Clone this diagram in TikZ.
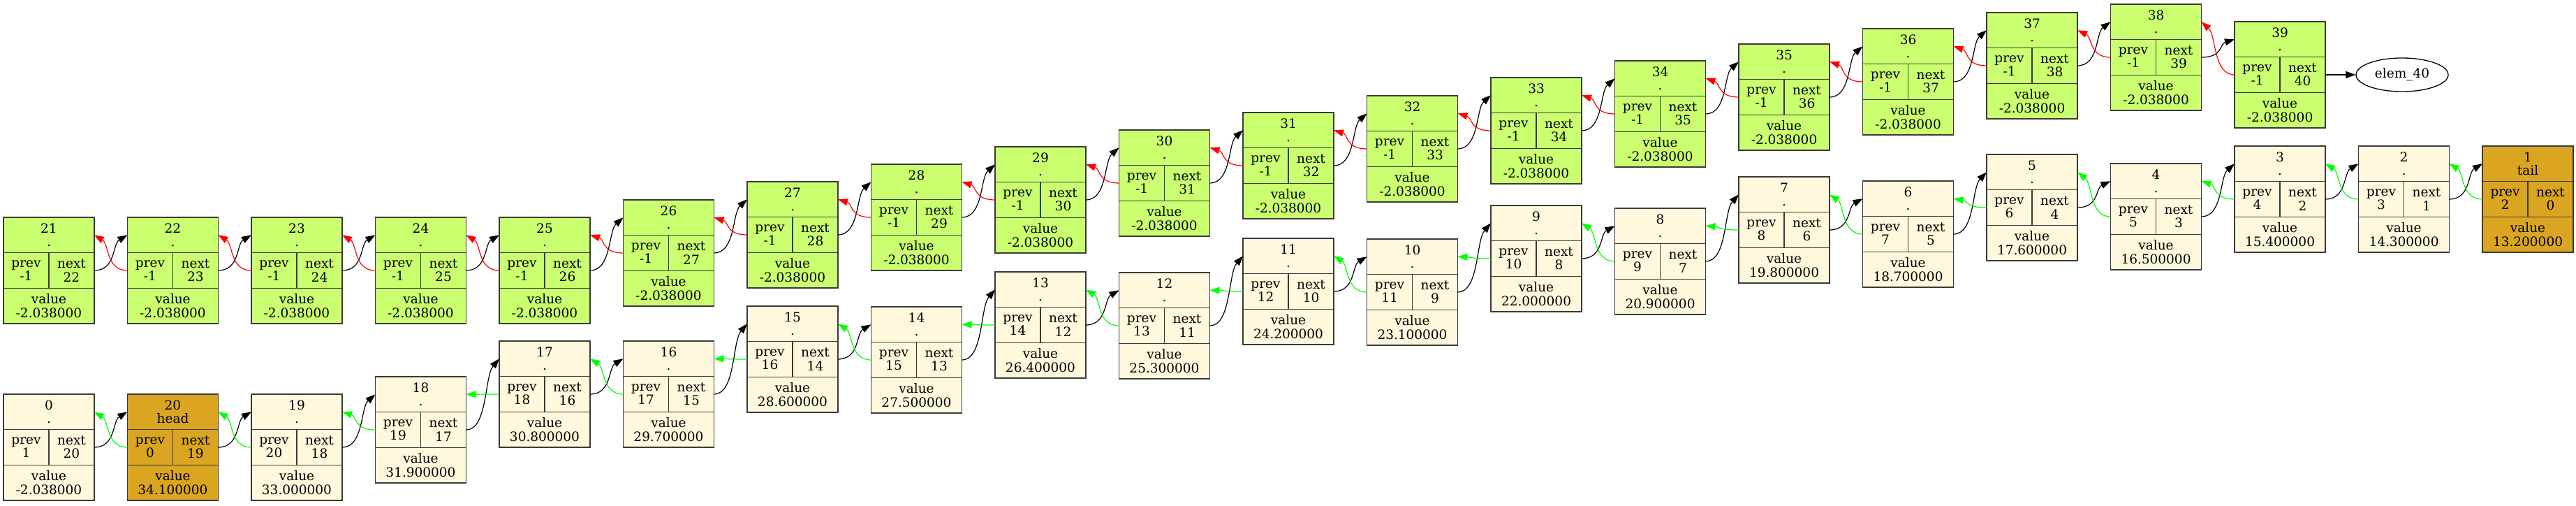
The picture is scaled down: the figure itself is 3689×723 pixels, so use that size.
\documentclass[tikz,border=0pt]{standalone}
\usepackage{fontspec}
\setmainfont{DejaVu Serif}
\usetikzlibrary{calc,arrows.meta,shapes.geometric}
\definecolor{recgreen}{HTML}{CAFF70}
\definecolor{reccream}{HTML}{FFF8DC}
\definecolor{recgold}{HTML}{DAA520}
\definecolor{recborder}{HTML}{3A3A3A}
\definecolor{edgered}{HTML}{FF0000}
\definecolor{edgegreen}{HTML}{00FF00}
\tikzset{
  recbox/.style={draw=recborder, line width=1.3pt, inner sep=0pt, outer sep=0pt,
    minimum width=130pt, minimum height=152pt, anchor=north west},
  recline/.style={draw=recborder, line width=1.3pt},
  rectext/.style={inner sep=0pt, align=center, font=\fontsize{18.5}{19.5}\selectfont},
  nextedge/.style={draw=black, line width=1.2pt, -{Triangle[length=14pt,width=10pt]}},
  prevred/.style={draw=edgered, line width=1.2pt, -{Triangle[length=14pt,width=10pt]}},
  prevgreen/.style={draw=edgegreen, line width=1.2pt, -{Triangle[length=14pt,width=10pt]}},
  elemnode/.style={ellipse, draw=black, line width=1.3pt, minimum width=132pt, minimum height=48pt,
    inner sep=0pt, font=\fontsize{18.5}{19.5}\selectfont}
}
% #1 name, #2 x left, #3 y top (image coords), #4 fill, #5 number, #6 label, #7 prev, #8 next, #9 value
\newcommand{\rec}[9]{%
  \node[recbox, fill=#4] (#1) at ({#2},{723-#3}) {};
  \draw[recline] ($(#1.north west)+(0,-50.7)$) -- ($(#1.north east)+(0,-50.7)$);
  \draw[recline] ($(#1.north west)+(0,-101.3)$) -- ($(#1.north east)+(0,-101.3)$);
  \draw[recline] ($(#1.north)+(0,-50.7)$) -- ($(#1.north)+(0,-101.3)$);
  \node[rectext] (#1-t) at ($(#1.north)+(0,-25.3)$) {#5\\#6};
  \node[rectext] (#1-p) at ($(#1.north west)+(32.5,-76)$) {prev\\#7};
  \node[rectext] (#1-n) at ($(#1.north east)+(-32.5,-76)$) {next\\#8};
  \node[rectext] (#1-v) at ($(#1.north)+(0,-126.7)$) {value\\#9};
  \coordinate (#1-tw) at ($(#1.north west)+(0,-25.3)$);
  \coordinate (#1-te) at ($(#1.north east)+(0,-25.3)$);
  \coordinate (#1-pw) at ($(#1.north west)+(0,-76)$);
  \coordinate (#1-ne) at ($(#1.north east)+(0,-76)$);
}
\newcommand{\conn}[3]{%
  \draw[#1] let \p1=(#2), \p2=(#3) in (\p1) .. controls ({\x1+0.65*(\x2-\x1)},\y1) and ({\x2-0.45*(\x2-\x1)},{\y2-0.25*(\y2-\y1)}) .. (\p2);
}
\begin{document}
\begin{tikzpicture}[x=1pt,y=1pt]
\useasboundingbox (0,0) rectangle (3689,723);
% top row
\foreach \n/\yt in {21/311,22/311,23/311,24/311,25/311,26/286,27/260,28/235,29/210,30/186,31/161,32/137,33/111,34/87,35/63,36/41,37/18,38/6,39/31}{
  \pgfmathtruncatemacro{\nx}{\n+1}
  \rec{n\n}{5+177.5*(\n-21)}{\yt}{recgreen}{\n}{.}{-1}{\nx}{-2.038000}
}
\node[elemnode] (e40) at (3440,616) {elem\_40};
% bottom row
\rec{n0}{5+177.5*0}{564}{reccream}{0}{.}{1}{20}{-2.038000}
\rec{n20}{5+177.5*1}{564}{recgold}{20}{head}{0}{19}{34.100000}
\foreach \n/\yt/\val in {19/564/33.000000,18/539/31.900000,17/488/30.800000,16/488/29.700000,15/438/28.600000,14/439/27.500000,13/389/26.400000,12/390/25.300000,11/341/24.200000,10/342/23.100000,9/294/22.000000,8/298/20.900000,7/253/19.800000,6/259/18.700000,5/221/17.600000,4/234/16.500000,3/209/15.400000,2/209/14.300000}{
  \pgfmathtruncatemacro{\pv}{\n+1}
  \pgfmathtruncatemacro{\nx}{\n-1}
  \rec{n\n}{5+177.5*(21-\n)}{\yt}{reccream}{\n}{.}{\pv}{\nx}{\val}
}
\rec{n1}{5+177.5*20}{209}{recgold}{1}{tail}{2}{0}{13.200000}
% top edges
\foreach \a in {21,...,38}{
  \pgfmathtruncatemacro{\b}{\a+1}
  \conn{nextedge}{n\a-ne}{n\b-tw}
  \conn{prevred}{n\b-pw}{n\a-te}
}
\draw[nextedge] (n39-ne) -- (e40.west);
% bottom edges
\foreach \a/\b in {0/20,20/19,19/18,18/17,17/16,16/15,15/14,14/13,13/12,12/11,11/10,10/9,9/8,8/7,7/6,6/5,5/4,4/3,3/2,2/1}{
  \conn{nextedge}{n\a-ne}{n\b-tw}
  \conn{prevgreen}{n\b-pw}{n\a-te}
}
\end{tikzpicture}
\end{document}
